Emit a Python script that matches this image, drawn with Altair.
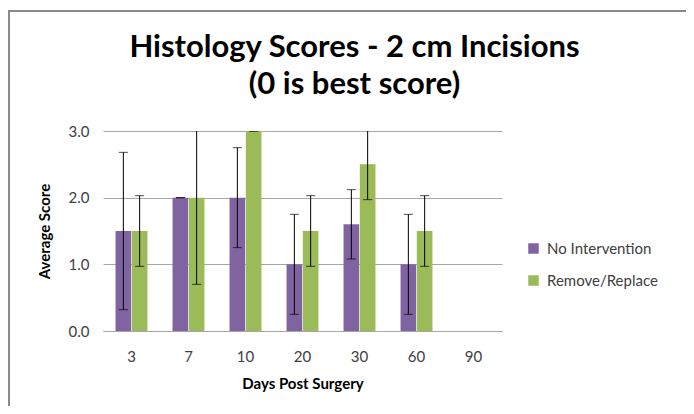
import altair as alt
import pandas as pd

days = ["3", "7", "10", "20", "30", "60", "90"]
series = ["No Intervention", "Remove/Replace"]
no_intervention = [1.5, 2.0, 2.0, 1.0, 1.6, 1.0, None]
no_int_err = [1.18, 0.0, 0.75, 0.75, 0.52, 0.75, None]
remove_replace = [1.5, 2.0, 3.0, 1.5, 2.5, 1.5, None]
rem_rep_err = [0.53, 1.3, 0.0, 0.53, 0.53, 0.53, None]

rows = []
for i, d in enumerate(days):
    for s, vals, errs in ((series[0], no_intervention, no_int_err), (series[1], remove_replace, rem_rep_err)):
        v = vals[i]
        e = errs[i]
        if v is None:
            continue
        rows.append({"Days": d, "Series": s, "Score": v, "lo": v - e, "hi": v + e})
df = pd.DataFrame(rows)

colors = ["#8064A2", "#9BBB59"]
FONT = "Lato"

x_enc = alt.X("Days:N", sort=days, scale=alt.Scale(domain=days, paddingInner=0.44, paddingOuter=0.22),
              title="Days Post Surgery",
              axis=alt.Axis(labelAngle=0, labelFontSize=15, labelColor="#404040", labelPadding=18,
                            ticks=False, domainColor="#A6A6A6", titleFontSize=15, titleFontWeight="bold",
                            titlePadding=12, titleColor="#000000", labelFont=FONT, titleFont=FONT))
xo = alt.XOffset("Series:N", sort=series, scale=alt.Scale(domain=series, paddingInner=0.04))

base = alt.Chart(df)

bars = base.mark_bar().encode(
    x=x_enc,
    xOffset=xo,
    y=alt.Y("Score:Q", scale=alt.Scale(domain=[0, 3]), title="Average Score",
            axis=alt.Axis(values=[0, 1, 2, 3], format=".1f", labelFontSize=15, labelColor="#404040",
                          labelPadding=14, ticks=False, domain=False, gridColor="#A6A6A6",
                          titleFontSize=15, titleFontWeight="bold", titlePadding=16,
                          titleColor="#000000", labelFont=FONT, titleFont=FONT)),
    color=alt.Color("Series:N", sort=series, scale=alt.Scale(domain=series, range=colors),
                    legend=alt.Legend(title=None, orient="none", legendX=423, legendY=110,
                                      symbolType="square", symbolSize=110, symbolStrokeWidth=0,
                                      labelFontSize=15, labelColor="#404040", labelFont=FONT,
                                      rowPadding=16, labelOffset=6)),
)

rules = base.mark_rule(color="black", strokeWidth=1, clip=True).encode(
    x=alt.X("Days:N", sort=days), xOffset=xo, y="lo:Q", y2="hi:Q")
caps_lo = base.mark_tick(color="black", thickness=1, size=9, clip=True).encode(
    x=alt.X("Days:N", sort=days), xOffset=xo, y="lo:Q")
caps_hi = base.mark_tick(color="black", thickness=1, size=9, clip=True).encode(
    x=alt.X("Days:N", sort=days), xOffset=xo, y="hi:Q")

frame_df = pd.DataFrame({"a": [0]})
left_border = alt.Chart(frame_df).mark_rule(color="#8A8A8A", strokeWidth=2).encode(
    x=alt.value(-94), y=alt.value(-121), y2=alt.value(276))
top_border = alt.Chart(frame_df).mark_rule(color="#8A8A8A", strokeWidth=2).encode(
    x=alt.value(-94), x2=alt.value(584), y=alt.value(-120))

chart = alt.layer(bars, rules, caps_lo, caps_hi, left_border, top_border).properties(
    width=399, height=200,
    title=alt.TitleParams(["Histology Scores - 2 cm Incisions", "(0 is best score)"],
                          fontSize=31, font=FONT, fontWeight="bold", color="#000000",
                          anchor="middle", dx=52, offset=-92, lineHeight=37),
    autosize=alt.AutoSizeParams(type="none"),
    padding={"left": 95, "top": 123, "right": 184, "bottom": 75},
).configure_view(stroke=None).configure_axis(gridWidth=1)

chart.save("out.html", embed_options={"renderer": "svg", "actions": False})
